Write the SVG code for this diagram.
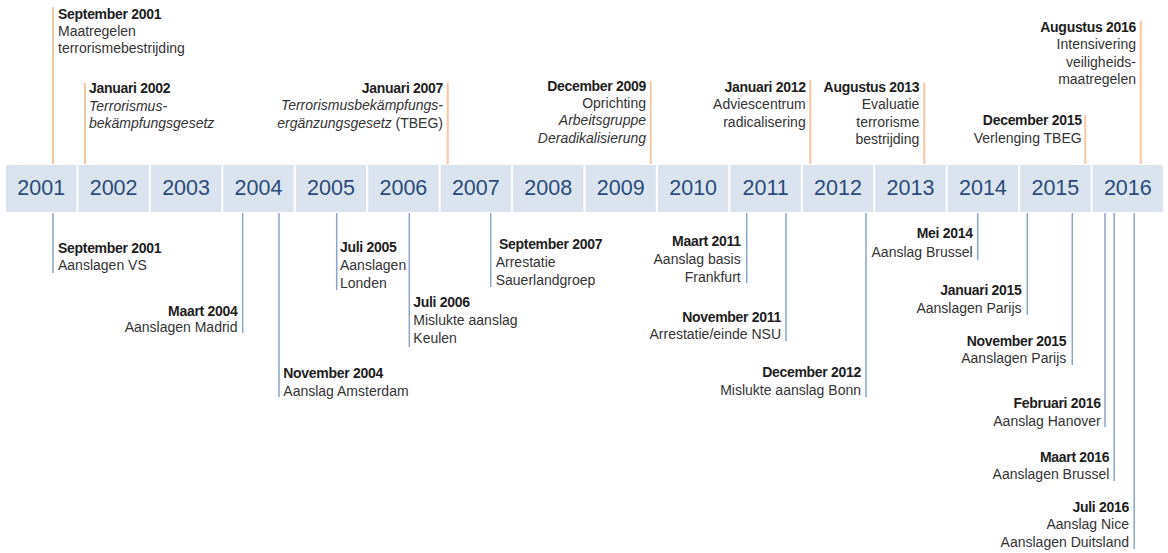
<svg xmlns="http://www.w3.org/2000/svg" width="1168" height="553" viewBox="0 0 1168 553">
<style>
text{font-family:"Liberation Sans",Arial,sans-serif;}
.yr{font-size:21.5px;fill:#2b4a7c;text-anchor:middle;}
.cell{fill:#dbe4ee;}
.h{font-size:14px;font-weight:bold;fill:#1e1e1e;letter-spacing:-0.3px;}
.b{font-size:14px;fill:#333;}
.i{font-style:italic;}
.e{text-anchor:end;}
.top{stroke:#f7c6a3;stroke-width:2;fill:none;}
.bot{stroke:#8da5c5;stroke-width:1.5;fill:none;}
</style>
<rect width="1168" height="553" fill="#fff"/>
<g id="timeline">
<rect class="cell" x="6" y="165" width="70.4" height="47"/>
<rect class="cell" x="78.44" y="165" width="70.4" height="47"/>
<rect class="cell" x="150.88" y="165" width="70.4" height="47"/>
<rect class="cell" x="223.32" y="165" width="70.4" height="47"/>
<rect class="cell" x="295.76" y="165" width="70.4" height="47"/>
<rect class="cell" x="368.2" y="165" width="70.4" height="47"/>
<rect class="cell" x="440.64" y="165" width="70.4" height="47"/>
<rect class="cell" x="513.08" y="165" width="70.4" height="47"/>
<rect class="cell" x="585.52" y="165" width="70.4" height="47"/>
<rect class="cell" x="657.96" y="165" width="70.4" height="47"/>
<rect class="cell" x="730.4" y="165" width="70.4" height="47"/>
<rect class="cell" x="802.84" y="165" width="70.4" height="47"/>
<rect class="cell" x="875.28" y="165" width="70.4" height="47"/>
<rect class="cell" x="947.72" y="165" width="70.4" height="47"/>
<rect class="cell" x="1020.16" y="165" width="70.4" height="47"/>
<rect class="cell" x="1092.6" y="165" width="70.4" height="47"/>
<text class="yr" x="41.2" y="195">2001</text>
<text class="yr" x="113.64" y="195">2002</text>
<text class="yr" x="186.08" y="195">2003</text>
<text class="yr" x="258.52" y="195">2004</text>
<text class="yr" x="330.96" y="195">2005</text>
<text class="yr" x="403.4" y="195">2006</text>
<text class="yr" x="475.84" y="195">2007</text>
<text class="yr" x="548.28" y="195">2008</text>
<text class="yr" x="620.72" y="195">2009</text>
<text class="yr" x="693.16" y="195">2010</text>
<text class="yr" x="765.6" y="195">2011</text>
<text class="yr" x="838.04" y="195">2012</text>
<text class="yr" x="910.48" y="195">2013</text>
<text class="yr" x="982.92" y="195">2014</text>
<text class="yr" x="1055.36" y="195">2015</text>
<text class="yr" x="1127.8" y="195">2016</text>
</g>
<g id="connectors">
<line class="top" x1="53" y1="7" x2="53" y2="164"/>
<line class="top" x1="85" y1="83" x2="85" y2="164"/>
<line class="top" x1="447.7" y1="83" x2="447.7" y2="164"/>
<line class="top" x1="650.7" y1="81" x2="650.7" y2="164"/>
<line class="top" x1="810.3" y1="80" x2="810.3" y2="164"/>
<line class="top" x1="924.3" y1="83" x2="924.3" y2="164"/>
<line class="top" x1="1085.3" y1="115" x2="1085.3" y2="164"/>
<line class="top" x1="1140.7" y1="21" x2="1140.7" y2="164"/>
<line class="bot" x1="53" y1="213" x2="53" y2="273"/>
<line class="bot" x1="242.7" y1="213" x2="242.7" y2="333"/>
<line class="bot" x1="279" y1="213" x2="279" y2="397"/>
<line class="bot" x1="336.7" y1="213" x2="336.7" y2="290"/>
<line class="bot" x1="409.3" y1="213" x2="409.3" y2="347"/>
<line class="bot" x1="490.7" y1="213" x2="490.7" y2="287"/>
<line class="bot" x1="746.7" y1="213" x2="746.7" y2="283"/>
<line class="bot" x1="786" y1="213" x2="786" y2="341"/>
<line class="bot" x1="866" y1="213" x2="866" y2="397"/>
<line class="bot" x1="977.7" y1="213" x2="977.7" y2="260"/>
<line class="bot" x1="1027.3" y1="213" x2="1027.3" y2="315"/>
<line class="bot" x1="1072.3" y1="213" x2="1072.3" y2="365"/>
<line class="bot" x1="1105" y1="213" x2="1105" y2="427"/>
<line class="bot" x1="1114.2" y1="213" x2="1114.2" y2="481"/>
<line class="bot" x1="1134.2" y1="213" x2="1134.2" y2="549"/>
</g>
<g id="t-sep2001">
<text class="h" x="58" y="18.5">September 2001</text>
<text class="b" x="58" y="36">Maatregelen</text>
<text class="b" x="58" y="53">terrorismebestrijding</text>
</g>
<g id="t-jan2002">
<text class="h" x="89" y="93">Januari 2002</text>
<text class="b i" x="89" y="110.5">Terrorismus-</text>
<text class="b i" x="89" y="128">bekämpfungsgesetz</text>
</g>
<g id="t-jan2007">
<text class="h e" x="443" y="93">Januari 2007</text>
<text class="b i e" x="443" y="110">Terrorismusbekämpfungs-</text>
<text class="b e" x="443" y="127.5"><tspan class="i">ergänzungsgesetz</tspan> (TBEG)</text>
</g>
<g id="t-dec2009">
<text class="h e" x="646" y="90.5">December 2009</text>
<text class="b e" x="646" y="107.5">Oprichting</text>
<text class="b i e" x="646" y="125">Arbeitsgruppe</text>
<text class="b i e" x="646" y="142.5">Deradikalisierung</text>
</g>
<g id="t-jan2012">
<text class="h e" x="805.7" y="91.7">Januari 2012</text>
<text class="b e" x="805.7" y="109">Adviescentrum</text>
<text class="b e" x="805.7" y="126.7">radicalisering</text>
</g>
<g id="t-aug2013">
<text class="h e" x="919.3" y="91.7">Augustus 2013</text>
<text class="b e" x="919.3" y="109">Evaluatie</text>
<text class="b e" x="919.3" y="126.7">terrorisme</text>
<text class="b e" x="919.3" y="144">bestrijding</text>
</g>
<g id="t-dec2015">
<text class="h e" x="1081.7" y="125">December 2015</text>
<text class="b e" x="1081.7" y="142.7">Verlenging TBEG</text>
</g>
<g id="t-aug2016">
<text class="h e" x="1136" y="31.7">Augustus 2016</text>
<text class="b e" x="1136" y="49.3">Intensivering</text>
<text class="b e" x="1136" y="66.7">veiligheids-</text>
<text class="b e" x="1136" y="84">maatregelen</text>
</g>
<g id="b-sep2001">
<text class="h" x="58" y="252.7">September 2001</text>
<text class="b" x="58" y="270">Aanslagen VS</text>
</g>
<g id="b-mrt2004">
<text class="h e" x="237.5" y="316">Maart 2004</text>
<text class="b e" x="237.5" y="331.7">Aanslagen Madrid</text>
</g>
<g id="b-nov2004">
<text class="h" x="283.3" y="378.3">November 2004</text>
<text class="b" x="283.3" y="395.7">Aanslag Amsterdam</text>
</g>
<g id="b-jul2005">
<text class="h" x="340" y="252.3">Juli 2005</text>
<text class="b" x="340" y="270">Aanslagen</text>
<text class="b" x="340" y="288">Londen</text>
</g>
<g id="b-jul2006">
<text class="h" x="413.3" y="307.3">Juli 2006</text>
<text class="b" x="413.3" y="325">Mislukte aanslag</text>
<text class="b" x="413.3" y="343">Keulen</text>
</g>
<g id="b-sep2007">
<text class="h" x="499" y="249.3">September 2007</text>
<text class="b" x="495.7" y="267.3">Arrestatie</text>
<text class="b" x="495.7" y="285">Sauerlandgroep</text>
</g>
<g id="b-mrt2011">
<text class="h e" x="740.7" y="246">Maart 2011</text>
<text class="b e" x="740.7" y="264">Aanslag basis</text>
<text class="b e" x="740.7" y="281.7">Frankfurt</text>
</g>
<g id="b-nov2011">
<text class="h e" x="781" y="321.7">November 2011</text>
<text class="b e" x="781" y="339.3">Arrestatie/einde NSU</text>
</g>
<g id="b-dec2012">
<text class="h e" x="861" y="376.7">December 2012</text>
<text class="b e" x="861" y="395">Mislukte aanslag Bonn</text>
</g>
<g id="b-mei2014">
<text class="h e" x="972.7" y="238.3">Mei 2014</text>
<text class="b e" x="972.7" y="256.7">Aanslag Brussel</text>
</g>
<g id="b-jan2015">
<text class="h e" x="1021.5" y="295">Januari 2015</text>
<text class="b e" x="1021.5" y="312.7">Aanslagen Parijs</text>
</g>
<g id="b-nov2015">
<text class="h e" x="1066.3" y="346">November 2015</text>
<text class="b e" x="1066.3" y="363.3">Aanslagen Parijs</text>
</g>
<g id="b-feb2016">
<text class="h e" x="1100.7" y="407.7">Februari 2016</text>
<text class="b e" x="1100.7" y="425.7">Aanslag Hanover</text>
</g>
<g id="b-mrt2016">
<text class="h e" x="1109.3" y="461.7">Maart 2016</text>
<text class="b e" x="1109.3" y="479.3">Aanslagen Brussel</text>
</g>
<g id="b-jul2016">
<text class="h e" x="1129" y="511.7">Juli 2016</text>
<text class="b e" x="1129" y="529.3">Aanslag Nice</text>
<text class="b e" x="1129" y="547.3">Aanslagen Duitsland</text>
</g>
</svg>
